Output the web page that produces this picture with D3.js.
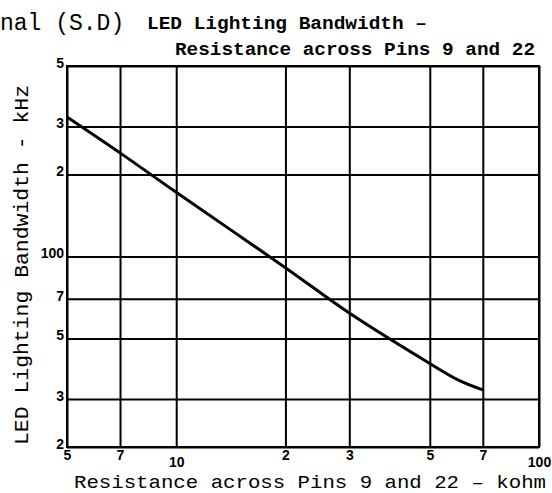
<!DOCTYPE html>
<html>
<head>
<meta charset="utf-8">
<script src="https://cdn.jsdelivr.net/npm/d3@7"></script>
<style>
  body { margin: 0; background: #fff; }
  svg { display: block; }
</style>
</head>
<body>
<div id="chart"></div>
<script>
// values (resistance in kohm, bandwidth in kHz)
const resistanceK = [5, 7, 10, 20, 30, 50, 60, 70];
const bandwidthKHz = [325, 240, 172, 91, 62, 40.5, 35.2, 32.4];

const xTicks = [5, 7, 10, 20, 30, 50, 70, 100];
const xTickLabels = ['5', '7', '10', '2', '3', '5', '7', '100'];
const yTicks = [20, 30, 50, 70, 100, 200, 300, 500];
const yTickLabels = ['2', '3', '5', '7', '100', '2', '3', '5'];

const width = 552, height = 493;
const margin = { top: 66, right: 13, bottom: 46, left: 67 };
const innerW = width - margin.left - margin.right;
const innerH = height - margin.top - margin.bottom;

const svg = d3.select('#chart')
    .append('svg')
    .attr('width', width)
    .attr('height', height);

const mono = "'Liberation Mono', 'DejaVu Sans Mono', monospace";

// titles
svg.append('text')
    .attr('x', 0).attr('y', 30)
    .attr('font-family', mono).attr('font-size', 23)
    .text('nal (S.D)');

svg.append('text')
    .attr('x', 147).attr('y', 29)
    .attr('font-family', mono).attr('font-size', 19).attr('font-weight', 'bold')
    .attr('textLength', 280).attr('lengthAdjust', 'spacingAndGlyphs')
    .text('LED Lighting Bandwidth –');

svg.append('text')
    .attr('x', 175).attr('y', 55)
    .attr('font-family', mono).attr('font-size', 19).attr('font-weight', 'bold')
    .attr('textLength', 360).attr('lengthAdjust', 'spacingAndGlyphs')
    .text('Resistance across Pins 9 and 22');

const g = svg.append('g')
    .attr('transform', `translate(${margin.left},${margin.top})`);

const x = d3.scaleLog().domain([5, 100]).range([0, innerW]);
const y = d3.scaleLog().domain([20, 500]).range([innerH, 0]);

// x grid + labels
const xAxis = g.append('g')
    .attr('transform', `translate(0,${innerH})`)
    .call(d3.axisBottom(x)
        .tickValues(xTicks)
        .tickSize(-innerH)
        .tickPadding(3)
        .tickFormat((d, i) => xTickLabels[i]));

xAxis.select('.domain').remove();
xAxis.selectAll('line').attr('stroke', '#000').attr('stroke-width', 2);
xAxis.selectAll('text')
    .attr('fill', '#000')
    .attr('font-family', "'Liberation Sans', Arial, sans-serif")
    .attr('font-weight', 'bold')
    .attr('font-size', 14)
    .attr('dy', (d) => (d === 10 || d === 100) ? '1.2em' : '0.7em');

// y grid + labels
const yAxis = g.append('g')
    .call(d3.axisLeft(y)
        .tickValues(yTicks)
        .tickSize(-innerW)
        .tickPadding(3)
        .tickFormat((d, i) => yTickLabels[i]));

yAxis.select('.domain').remove();
yAxis.selectAll('line').attr('stroke', '#000').attr('stroke-width', 2);
yAxis.selectAll('text')
    .attr('fill', '#000')
    .attr('font-family', "'Liberation Sans', Arial, sans-serif")
    .attr('font-weight', 'bold')
    .attr('font-size', 14)
    .attr('dy', '0.1em');

// frame
g.append('rect')
    .attr('x', 0).attr('y', 0)
    .attr('width', innerW).attr('height', innerH)
    .attr('fill', 'none')
    .attr('stroke', '#000')
    .attr('stroke-width', 2);

// curve
const line = d3.line()
    .x((d, i) => x(resistanceK[i]))
    .y((d) => y(d))
    .curve(d3.curveCatmullRom.alpha(0.5));

g.append('path')
    .datum(bandwidthKHz)
    .attr('d', line)
    .attr('fill', 'none')
    .attr('stroke', '#000')
    .attr('stroke-width', 3);

// axis titles
svg.append('text')
    .attr('x', 74).attr('y', 488)
    .attr('font-family', mono).attr('font-size', 19)
    .attr('textLength', 472).attr('lengthAdjust', 'spacingAndGlyphs')
    .text('Resistance across Pins 9 and 22 – kohm');

svg.append('text')
    .attr('transform', 'translate(28,265) rotate(-90)')
    .attr('text-anchor', 'middle')
    .attr('font-family', mono).attr('font-size', 20)
    .attr('textLength', 360).attr('lengthAdjust', 'spacingAndGlyphs')
    .text('LED Lighting Bandwidth - kHz');
</script>
</body>
</html>
